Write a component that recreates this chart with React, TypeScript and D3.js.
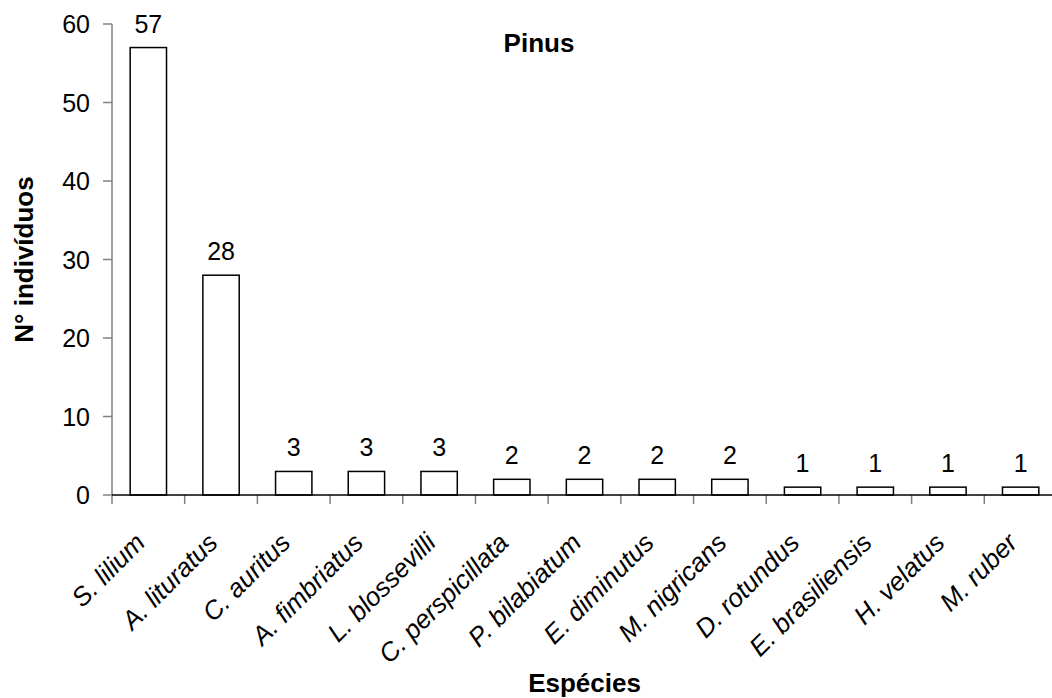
import React from 'react';
import * as d3 from 'd3';

const species = [
  'S. lilium', 'A. lituratus', 'C. auritus', 'A. fimbriatus', 'L. blossevilli',
  'C. perspicillata', 'P. bilabiatum', 'E. diminutus', 'M. nigricans',
  'D. rotundus', 'E. brasiliensis', 'H. velatus', 'M. ruber',
];
const counts = [57, 28, 3, 3, 3, 2, 2, 2, 2, 1, 1, 1, 1];
const yTicks = [0, 10, 20, 30, 40, 50, 60];

const W = 1052;
const H = 698;
const left = 112;
const right = 1057;
const top = 24;
const bottom = 495;
const font = '"Liberation Sans", Arial, sans-serif';

const App = () => {
  const x = d3.scaleBand<string>()
    .domain(species)
    .range([left, right])
    .paddingInner(0.5)
    .paddingOuter(0.25);

  const y = d3.scaleLinear()
    .domain([0, 60])
    .range([bottom, top]);

  const step = x.step();
  const edge = (c: string) => (x(c) as number) - (step - x.bandwidth()) / 2;
  const boundaries = species.map(edge).concat([edge(species[species.length - 1]) + step]);

  return (
    <svg
      width={W}
      height={H}
      style={{ position: 'absolute', left: 0, top: 0, background: '#fff' }}
      fontFamily={font}
    >
      {/* y axis */}
      <line x1={left} x2={left} y1={top} y2={bottom} stroke="#808080" strokeWidth={1.5} />
      {yTicks.map((t) => (
        <g key={t} transform={`translate(0, ${y(t)})`}>
          <line x1={left - 9} x2={left} stroke="#808080" strokeWidth={1.5} />
          <text x={90} dy="0.36em" textAnchor="end" fontSize={25}>{t}</text>
        </g>
      ))}

      {/* bars */}
      {species.map((s, i) => (
        <g key={s}>
          <rect
            x={x(s)}
            y={y(counts[i])}
            width={x.bandwidth()}
            height={bottom - y(counts[i])}
            fill="#fff"
            stroke="#000"
            strokeWidth={1.5}
          />
          <text
            x={(x(s) as number) + x.bandwidth() / 2}
            y={y(counts[i]) - 15}
            textAnchor="middle"
            fontSize={25}
          >
            {counts[i]}
          </text>
        </g>
      ))}

      {/* x axis */}
      {boundaries.map((b, i) => (
        <line key={i} x1={b} x2={b} y1={bottom} y2={bottom + 9} stroke="#808080" strokeWidth={1.5} />
      ))}
      <line x1={left} x2={right} y1={bottom} y2={bottom} stroke="#000" strokeWidth={1.5} />
      {species.map((s) => (
        <text
          key={s}
          transform={`translate(${(x(s) as number) + x.bandwidth() / 2 - 15}, 531) rotate(-45)`}
          dy="0.72em"
          textAnchor="end"
          fontSize={26}
          fontStyle="italic"
        >
          {s}
        </text>
      ))}

      {/* titles */}
      <text x={539} y={52} textAnchor="middle" fontSize={26} fontWeight="bold">Pinus</text>
      <text x={(left + right) / 2} y={692} textAnchor="middle" fontSize={26} fontWeight="bold">Espécies</text>
      <text
        transform={`translate(33, ${(top + bottom) / 2}) rotate(-90)`}
        textAnchor="middle"
        fontSize={26}
        fontWeight="bold"
      >
        N° indivíduos
      </text>
    </svg>
  );
};

export default App;
